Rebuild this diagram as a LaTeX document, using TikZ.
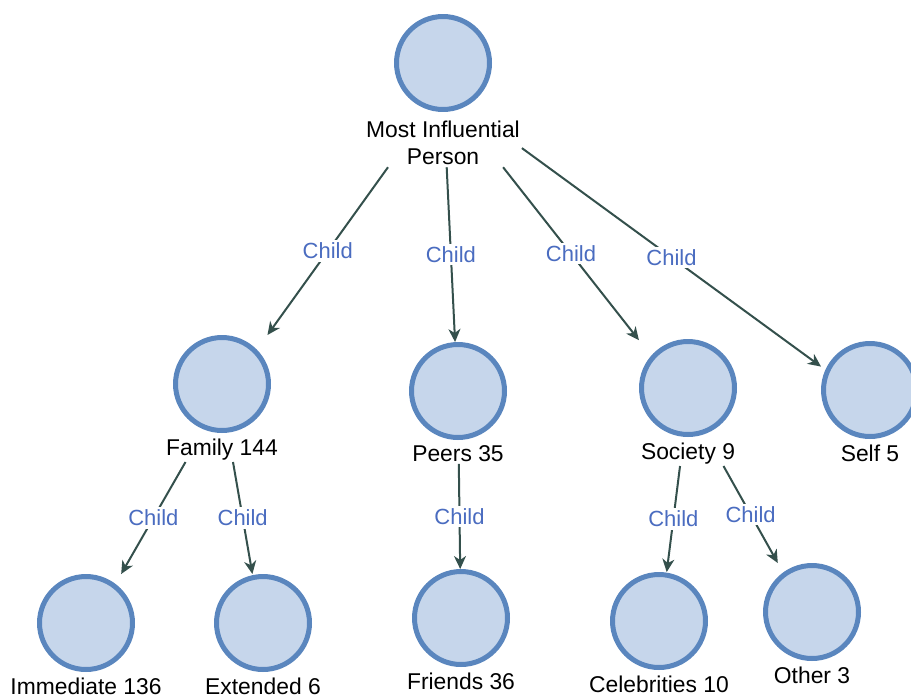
\documentclass[tikz,border=0pt]{standalone}
\usepackage{fontspec}
\setmainfont{Liberation Sans}
\usetikzlibrary{arrows.meta, positioning, fit}

\definecolor{nodefill}{HTML}{C6D6EB}
\definecolor{nodeline}{HTML}{5A86BE}
\definecolor{linkcol}{HTML}{34504C}
\definecolor{relcol}{HTML}{4A6CC0}

\begin{document}
\begin{tikzpicture}[
  x=0.02cm, y=-0.02cm,
  >={Stealth[length=0.26cm, width=0.24cm, inset=0.08cm]},
  person/.style = {draw=nodeline, fill=nodefill, circle, line width=0.1cm, minimum size=1.86cm},
  lbl/.style    = {font=\fontsize{13}{15.5}\selectfont, align=center, inner sep=1pt},
  box/.style    = {inner sep=0pt, outer sep=0pt},
  link/.style   = {->, draw=linkcol, line width=0.04cm},
  rel/.style    = {fill=white, text=relcol, inner sep=1.5pt, font=\fontsize{12.5}{14}\selectfont},
]
  \useasboundingbox (0,0) rectangle (911,696);

  % Root node
  \node[person]                    (rootc) at (443,63)  {};
  \node[lbl, below=4pt of rootc]   (rootl) {Most Influential\\Person};

  % Second level
  \node[person]                    (famc)  at (222,384) {};
  \node[lbl, below=2pt of famc]    (faml)  {Family 144};
  \node[person]                    (peerc) at (458,391) {};
  \node[lbl, below=2pt of peerc]   (peerl) {Peers 35};
  \node[person]                    (socc)  at (688,388) {};
  \node[lbl, below=2pt of socc]    (socl)  {Society 9};
  \node[person]                    (selfc) at (870,390) {};
  \node[lbl, below=2pt of selfc]   (selfl) {Self 5};

  % Third level
  \node[person]                    (immc)  at (86,623)  {};
  \node[lbl, below=2pt of immc]    (imml)  {Immediate 136};
  \node[person]                    (extc)  at (263,623) {};
  \node[lbl, below=2pt of extc]    (extl)  {Extended 6};
  \node[person]                    (fric)  at (461,618) {};
  \node[lbl, below=2pt of fric]    (fril)  {Friends 36};
  \node[person]                    (celc)  at (659,621) {};
  \node[lbl, below=2pt of celc]    (cell)  {Celebrities 10};
  \node[person]                    (othc)  at (812,612) {};
  \node[lbl, below=2pt of othc]    (othl)  {Other 3};

  % Boxes round circle + label, used to clip the links
  \node[box, fit=(rootc)(rootl)] (root) {};
  \node[box, fit=(famc)(faml)]   (fam)  {};
  \node[box, fit=(peerc)(peerl)] (peer) {};
  \node[box, fit=(socc)(socl)]   (soc)  {};
  \node[box, fit=(selfc)(selfl)] (self) {};
  \node[box, fit=(immc)(imml)]   (imm)  {};
  \node[box, fit=(extc)(extl)]   (ext)  {};
  \node[box, fit=(fric)(fril)]   (fri)  {};
  \node[box, fit=(celc)(cell)]   (cel)  {};
  \node[box, fit=(othc)(othl)]   (oth)  {};

  % Links
  \draw[link] (root) -- node[rel]{Child} (fam);
  \draw[link] (root) -- node[rel]{Child} (peer);
  \draw[link] (root) -- node[rel]{Child} (soc);
  \draw[link] (root) -- node[rel]{Child} (self);
  \draw[link] (fam)  -- node[rel]{Child} (imm);
  \draw[link] (fam)  -- node[rel]{Child} (ext);
  \draw[link] (peer) -- node[rel]{Child} (fri);
  \draw[link] (soc)  -- node[rel]{Child} (cel);
  \draw[link] (soc)  -- node[rel]{Child} (oth);
\end{tikzpicture}
\end{document}
